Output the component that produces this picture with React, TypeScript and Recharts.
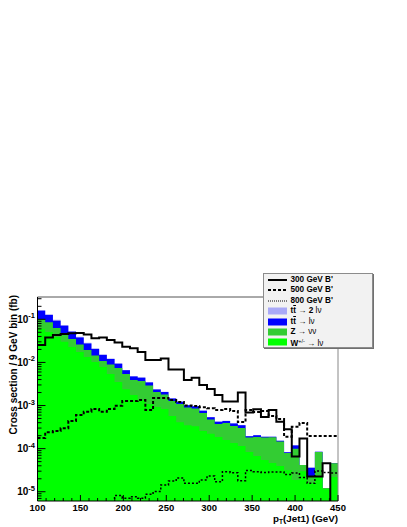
import { ComposedChart, Area, Line, XAxis, YAxis, ReferenceLine } from "recharts";

// pT(jet1) histogram, 39 bins between 100 and 450 GeV, cross section in fb per bin
const PT_MIN = 100;
const PT_MAX = 450;
const Y_MIN = 6.1e-6;
const Y_MAX = 0.329;

// backgrounds (stacked): W -> lv at the bottom, then Z -> vv, tt -> lv, tt -> 2lv
const wLnu = [
  0.06, 0.051, 0.039, 0.03, 0.0228, 0.0174, 0.0133, 0.0102, 0.0078, 0.0054,
  0.0035, 0.0024, 0.00175, 0.00134, 0.00108, 0.00092, 0.00083, 0.00057, 0.00041, 0.00035,
  0.00033, 0.000256, 0.00022, 0.000186, 0.000158, 0.000135, 0.000115, 0.0000834, 0.0000673, 0.0000543,
  0.0000463, 0.0000394, 0.0000318, 0.0000187, 0.00003, 0.0000159, 0.0000219, 0.0000116, 0.0000219,
];
const zNuNu = [
  0.042, 0.034, 0.024, 0.018, 0.0121, 0.0086, 0.0061, 0.0042, 0.003, 0.0036,
  0.0039, 0.003, 0.00216, 0.00236, 0.00183, 0.00114, 0.00097, 0.0007, 0.00067, 0.00055,
  0.00052, 0.000414, 0.000255, 0.000186, 0.000235, 0.0002, 0.000186, 0.0000976, 0.000119, 0.000127,
  0.000137, 0.000107, 0.0000473, 0.0000813, 0.000012, 0.0000072, 0.0000615, 0.0000006, 0.0000237,
];
const ttLnu = [
  0.0555, 0.0405, 0.03, 0.0229, 0.0165, 0.0118, 0.0081, 0.006, 0.004, 0.003,
  0.00185, 0.00114, 0.00081, 0.00071, 0.00053, 0.00028, 0.00025, 0.000176, 0.00014, 0.000114,
  0.000106, 0.000088, 0.000062, 0.000047, 0.000044, 0.000046, 0.000046, 0.000013, 0.0000185, 0.000007,
  0.0000053, 0.0000053, 0.0000038, 0.0000185, 0, 0.0000126, 0.0000011, 0, 0,
];
const tt2Lnu = [
  0.0075, 0.0055, 0.004, 0.0031, 0.0022, 0.0016, 0.0011, 0.0008, 0.0006, 0.0004,
  0.00025, 0.00016, 0.00011, 0.0001, 0.00007, 0.00004, 0.00004, 0.000024, 0.00002, 0.000016,
  0.000014, 0.000012, 0.000008, 0.000007, 0.000006, 0.000006, 0.000006, 0.000002, 0.0000025, 0.000001,
  0.0000007, 0.0000007, 0.0000005, 0.0000025, 0, 0.0000017, 0.0000002, 0, 0,
];

// B' signals
const bprime300 = [
  0.0253, 0.0378, 0.0432, 0.0456, 0.0473, 0.0481, 0.0444, 0.0362, 0.0378, 0.0331,
  0.029, 0.0231, 0.0212, 0.0174, 0.0114, 0.0114, 0.0123, 0.00684, 0.00684, 0.00391,
  0.00442, 0.00299, 0.00242, 0.00175, 0.00124, 0.00124, 0.002, 0.000689, 0.000817, 0.000541,
  0.000787, 0.000421, 0.000281, 0.0000656, 0.000171, 0.0000225, 0.0000225, 0.0000456, 0.000001,
];
const bprime500 = [
  0.000176, 0.000239, 0.000256, 0.000296, 0.000437, 0.000603, 0.000718, 0.00083, 0.000718, 0.00083,
  0.000989, 0.00127, 0.00127, 0.00134, 0.000787, 0.00149, 0.00149, 0.00134, 0.00121, 0.001,
  0.000973, 0.000908, 0.000861, 0.000787, 0.00083, 0.000745, 0.000414, 0.000787, 0.000706, 0.000745,
  0.00057, 0.000486, 0.000189, 0.000322, 0.000393, 0.000196, 0.000196, 0.000196, 0.000196,
];
const bprime800 = [
  0.000002, 0.000002, 0.000002, 0.000002, 0.000002, 0.000002, 0.000002, 0.000002, 0.000002, 0.000002,
  0.0000082, 0.0000071, 0.0000077, 0.0000071, 0.0000087, 0.0000101, 0.0000143, 0.0000177, 0.0000208, 0.0000157,
  0.0000157, 0.0000187, 0.0000231, 0.0000171, 0.0000291, 0.0000276, 0.000018, 0.000031, 0.0000291, 0.0000279,
  0.0000286, 0.0000286, 0.0000251, 0.0000272, 0.0000213, 0.0000157, 0.0000302, 0.0000279, 0.0000272,
];

const xTickLabels = [100, 150, 200, 250, 300, 350, 400, 450];
const yDecades = [-6, -5, -4, -3, -2, -1];

const legendItems = [
  { kind: "line", dash: "", width: 2, main: "300 GeV B'" },
  { kind: "line", dash: "3 2", width: 2, main: "500 GeV B'" },
  { kind: "line", dash: "1 1", width: 1, main: "800 GeV B'" },
  { kind: "box", color: "#a9a9f7", main: "tt", bar: true, tail: " \u2192 ", tail2: "2", tail3: " l\u03bd" },
  { kind: "box", color: "#0000ff", main: "tt", bar: true, tail: " \u2192 l\u03bd" },
  { kind: "box", color: "#33cc33", main: "Z", tail: " \u2192 \u03bd\u03bd" },
  { kind: "box", color: "#00ff00", main: "W", sup: "+/-", tail: " \u2192 l\u03bd" },
];

const FONT = "'Liberation Sans', Arial, Helvetica, sans-serif";

const nBins = wLnu.length;
const binWidth = (PT_MAX - PT_MIN) / nBins;

// one row per bin edge; the last edge repeats the last bin so the step closes
const chartData = Array.from({ length: nBins + 1 }, (_, i) => {
  const b = Math.min(i, nBins - 1);
  const w = wLnu[b];
  const wz = w + zNuNu[b];
  const wzt = wz + ttLnu[b];
  const all = wzt + tt2Lnu[b];
  return {
    pt: PT_MIN + i * binWidth,
    w,
    wz,
    wzt,
    all,
    s300: bprime300[b],
    s500: bprime500[b],
    s800: bprime800[b],
  };
});

const xTicks: number[] = [];
for (let v = PT_MIN; v <= PT_MAX; v += 10) xTicks.push(v);

const yTicks: number[] = [];
yDecades.forEach((e) => {
  for (let m = 1; m <= 9; m++) {
    const v = m * Math.pow(10, e);
    if (v >= Y_MIN && v <= Y_MAX) yTicks.push(v);
  }
});

const XTick = ({ x, y, payload }: any) => {
  const major = xTickLabels.includes(payload.value);
  return (
    <g>
      <line x1={x} x2={x} y1={y} y2={y - (major ? 6 : 3)} stroke="#000" strokeWidth={1} />
      {major && (
        <text
          x={x}
          y={y + 9.8}
          textAnchor="middle"
          fontSize={9.5}
          fontWeight="bold"
          fontFamily={FONT}
          fill="#000"
        >
          {payload.value}
        </text>
      )}
    </g>
  );
};

const YTick = ({ x, y, payload }: any) => {
  const lg = Math.log10(payload.value);
  const exp = Math.round(lg);
  const major = Math.abs(lg - exp) < 1e-6;
  return (
    <g>
      <line x1={x} x2={x + (major ? 8 : 4)} y1={y} y2={y} stroke="#000" strokeWidth={1} />
      {major && (
        <text
          x={x - 2.5}
          y={y + 3.5}
          textAnchor="end"
          fontSize={10}
          fontWeight="bold"
          fontFamily={FONT}
          fill="#000"
        >
          <tspan>10</tspan>
          <tspan dy={-4.5} fontSize={7.5}>
            {exp}
          </tspan>
        </text>
      )}
    </g>
  );
};

const XTitle = ({ viewBox }: any) => (
  <text
    x={viewBox.x + viewBox.width}
    y={viewBox.y + 20.5}
    textAnchor="end"
    fontSize={9.8}
    fontWeight="bold"
    fontFamily={FONT}
    fill="#000"
  >
    p
    <tspan dy={2.5} fontSize={6.5}>
      T
    </tspan>
    <tspan dy={-2.5}>(Jet1) (GeV)</tspan>
  </text>
);

const YTitle = ({ viewBox }: any) => (
  <text
    transform={`translate(${viewBox.x + 9.5},${viewBox.y - 2}) rotate(-90)`}
    textAnchor="end"
    fontSize={10}
    fontWeight="bold"
    fontFamily={FONT}
    fill="#000"
  >
    Cross section / 9 GeV bin (fb)
  </text>
);

function LegendBox() {
  return (
    <div
      style={{
        position: "absolute",
        left: 263,
        top: 273,
        width: 110,
        height: 75,
        boxSizing: "border-box",
        background: "#f2f2f2",
        border: "1px solid #8c8c8c",
        boxShadow: "1px 1px 0 #707070",
        paddingTop: 0.8,
        paddingLeft: 3.5,
        fontFamily: FONT,
        fontSize: 8.2,
        color: "#000",
      }}
    >
      {legendItems.map((it, i) => (
        <div key={i} style={{ height: 10.4, display: "flex", alignItems: "center" }}>
          <svg width={19} height={8} style={{ flex: "none" }}>
            {it.kind === "line" ? (
              <line
                x1={0}
                x2={19}
                y1={4}
                y2={4}
                stroke="#000"
                strokeWidth={it.width}
                strokeDasharray={it.dash || undefined}
              />
            ) : (
              <rect x={0} y={0.5} width={19} height={7} fill={it.color} />
            )}
          </svg>
          <span style={{ marginLeft: 4, whiteSpace: "nowrap", lineHeight: "10px" }}>
            <b>
              {it.bar ? (
                <>
                  t<span style={{ textDecoration: "overline" }}>t</span>
                </>
              ) : (
                it.main
              )}
            </b>
            {it.sup && <sup style={{ fontSize: 5.5, verticalAlign: 3 }}>{it.sup}</sup>}
            {it.tail && <span>{it.tail}</span>}
            {it.tail2 && <b>{it.tail2}</b>}
            {it.tail3 && <span>{it.tail3}</span>}
          </span>
        </div>
      ))}
    </div>
  );
}

export default function App() {
  return (
    <div
      style={{
        position: "absolute",
        left: 0,
        top: 0,
        width: 407,
        height: 527,
        background: "#fff",
      }}
    >
      <ComposedChart
        width={407}
        height={527}
        data={chartData}
        margin={{ top: 297, right: 69, bottom: 0, left: 7.5 }}
      >
        <Area
          type="stepAfter"
          dataKey="all"
          baseValue="dataMin"
          stroke="none"
          fill="#a9a9f7"
          fillOpacity={1}
          isAnimationActive={false}
        />
        <Area
          type="stepAfter"
          dataKey="wzt"
          baseValue="dataMin"
          stroke="none"
          fill="#0000ff"
          fillOpacity={1}
          isAnimationActive={false}
        />
        <Area
          type="stepAfter"
          dataKey="wz"
          baseValue="dataMin"
          stroke="none"
          fill="#33cc33"
          fillOpacity={1}
          isAnimationActive={false}
        />
        <Area
          type="stepAfter"
          dataKey="w"
          baseValue="dataMin"
          stroke="none"
          fill="#00ff00"
          fillOpacity={1}
          isAnimationActive={false}
        />
        <Line
          type="stepAfter"
          dataKey="s800"
          stroke="#000"
          strokeWidth={1.5}
          strokeDasharray="2 2"
          dot={false}
          isAnimationActive={false}
        />
        <Line
          type="stepAfter"
          dataKey="s500"
          stroke="#000"
          strokeWidth={2}
          strokeDasharray="3 2"
          dot={false}
          isAnimationActive={false}
        />
        <Line
          type="stepAfter"
          dataKey="s300"
          stroke="#000"
          strokeWidth={2}
          dot={false}
          isAnimationActive={false}
        />
        <ReferenceLine y={Y_MAX} stroke="#555" strokeWidth={1} />
        <ReferenceLine x={PT_MAX} stroke="#888" strokeWidth={1} />
        <XAxis
          dataKey="pt"
          type="number"
          domain={[PT_MIN, PT_MAX]}
          allowDataOverflow
          ticks={xTicks}
          interval={0}
          tick={<XTick />}
          tickLine={false}
          tickSize={0}
          tickMargin={0}
          height={26}
          axisLine={{ stroke: "#000" }}
          label={{ content: <XTitle /> }}
        />
        <YAxis
          type="number"
          scale="log"
          domain={[Y_MIN, Y_MAX]}
          allowDataOverflow
          ticks={yTicks}
          interval={0}
          tick={<YTick />}
          tickLine={false}
          tickSize={0}
          tickMargin={0}
          width={30}
          axisLine={{ stroke: "#000" }}
          label={{ content: <YTitle /> }}
        />
      </ComposedChart>
      <LegendBox />
    </div>
  );
}
